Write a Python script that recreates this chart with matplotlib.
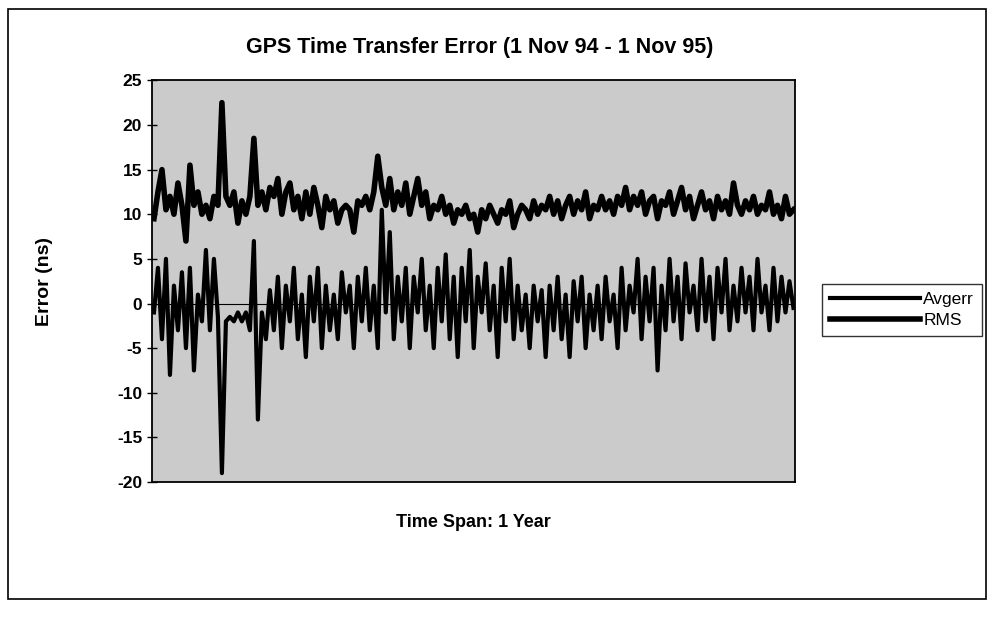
import numpy as np
import matplotlib
matplotlib.use('Agg')
import matplotlib.pyplot as plt
from matplotlib.patches import Rectangle

plt.rcParams['font.family'] = ['Liberation Sans', 'DejaVu Sans']
plt.rcParams['axes.unicode_minus'] = False

TITLE = 'GPS Time Transfer Error (1 Nov 94 - 1 Nov 95)'
X_LABEL = 'Time Span: 1 Year'
Y_LABEL = 'Error (ns)'
Y_TICKS = [25, 20, 15, 10, 5, 0, -5, -10, -15, -20]

# values, roughly every 2-3 days
RMS = [9.5, 12.5, 15, 10.5, 12, 10, 13.5, 11, 7, 15.5, 11, 12.5, 10,
       11, 9.5, 12, 11, 22.5, 12, 11, 12.5, 9, 11.5, 10, 12, 18.5,
       11, 12.5, 10.5, 13, 12, 14, 10, 12.5, 13.5, 10.5, 12, 9.5, 12.5,
       10, 13, 11, 8.5, 12, 10.5, 11.5, 9, 10.5, 11, 10.5, 8, 11.5,
       11, 12, 10.5, 12.5, 16.5, 13, 11, 14, 10.5, 12.5, 11, 13.5, 10,
       12, 14, 11, 12.5, 9.5, 11, 10.5, 12, 10, 11, 9, 10.5, 10, 11,
       9.5, 10, 8, 10.5, 9.5, 11, 10, 9, 10.5, 10, 11.5, 8.5, 10, 11,
       10.5, 9.5, 11.5, 10, 11, 10.5, 12, 10, 11.5, 9.5, 11, 12, 10,
       11.5, 10.5, 12.5, 9.5, 11, 10.5, 12, 10.5, 11.5, 10, 12, 11, 13,
       10.5, 12, 11, 12.5, 10, 11.5, 12, 9.5, 11.5, 11, 12.5, 10, 11.5,
       13, 10.5, 12, 9.5, 11, 12.5, 10.5, 11.5, 9.5, 12, 10.5, 11.5, 10,
       13.5, 11, 10, 11.5, 10.5, 12, 10, 11, 10.5, 12.5, 10, 11, 9.5,
       12, 10, 10.5]

AVGERR = [-1, 4, -4, 5, -8, 2, -3, 3.5, -5, 4, -7.5, 1, -2, 6, -3, 5,
          -1.5, -19, -2, -1.5, -2, -1, -2, -1, -3, 7, -13, -1, -4, 1.5,
          -3, 3, -5, 2, -2, 4, -4, 1, -6, 3, -2, 4, -5, 2, -3, 1, -4,
          3.5, -1, 2, -5, 3, -2, 4, -3, 2, -5, 10.5, -1, 8, -4, 3, -2,
          4, -5, 3, -1, 5, -3, 2, -5, 4, -2, 5.5, -4, 3, -6, 4, -2, 6,
          -5, 3, -1, 4.5, -3, 2, -6, 4, -2, 5, -4, 2, -3, 1, -5, 2, -2,
          1.5, -6, 2, -3, 3, -4, 1, -6, 2.5, -2, 3, -5, 1, -3, 2, -4, 3,
          -2, 1, -5, 4, -3, 2, -1, 5, -4, 3, -2, 4, -7.5, 2, -3, 5, -2,
          3, -4, 4.5, -1, 2, -3, 5, -2, 3, -4, 4, -1, 5, -3, 2, -2, 4,
          -1, 3, -3, 5, -1, 2, -3, 4, -2, 3, -1, 2.5, -0.5]

fig = plt.figure(figsize=(9.9, 6.18), dpi=100)
fig.patches.append(Rectangle((0.008, 0.03), 0.988, 0.955, transform=fig.transFigure,
                             fill=False, edgecolor='black', linewidth=1.2))

ax = fig.add_axes([0.1535, 0.22, 0.65, 0.65])
ax.set_facecolor('#cbcbcb')

days = np.arange(len(RMS))
ax.plot(days, AVGERR, color='black', linewidth=3.0, label='Avgerr')
ax.plot(days, RMS, color='black', linewidth=4.0, label='RMS')
ax.axhline(0, color='black', linewidth=0.8)

ax.set_xlim(-0.5, len(RMS) - 0.5)
ax.set_ylim(-20, 25)
ax.set_yticks(Y_TICKS)
ax.set_xticks([])
for lbl in ax.get_yticklabels():
    lbl.set_fontweight('bold')
ax.tick_params(axis='y', labelsize=12.5, length=7, width=1, direction='inout')
for s in ax.spines.values():
    s.set_linewidth(1.3)

ax.set_ylabel(Y_LABEL, fontsize=14, fontweight='bold', labelpad=46)
ax.set_xlabel(X_LABEL, fontsize=13, fontweight='bold', labelpad=23)
fig.suptitle(TITLE, x=0.485, y=0.94, fontsize=15.5, fontweight='bold')

leg = fig.legend(loc='upper left', bbox_to_anchor=(0.83, 0.54), borderaxespad=0,
                 fontsize=12.5, frameon=True, fancybox=False, edgecolor='black',
                 handlelength=5.2, borderpad=0.45, labelspacing=0.35, handletextpad=0.2)
leg.get_frame().set_linewidth(1.0)

fig.savefig('out.png', dpi=100)
